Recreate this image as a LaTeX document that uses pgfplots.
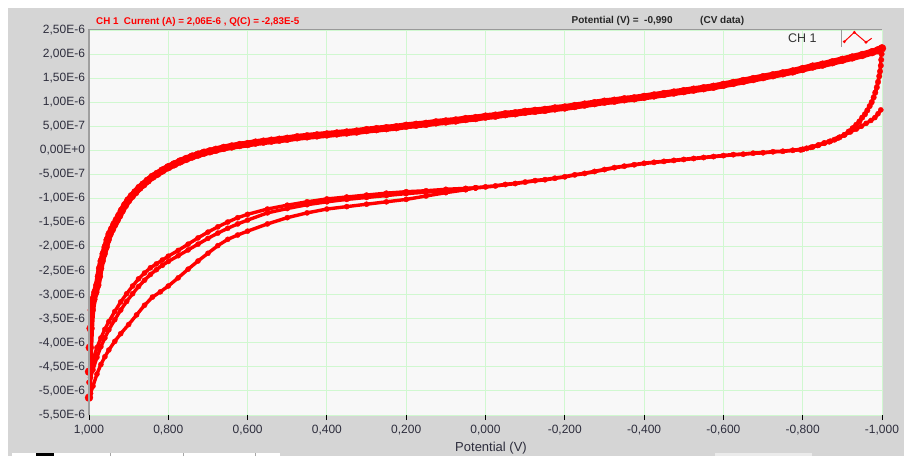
\documentclass[border=0pt]{standalone}
\usepackage{pgfplots}
\pgfplotsset{compat=1.18}
\usepackage{pgfplotstable}
\usepackage{fontspec}
\setmainfont{Liberation Sans}
\definecolor{outerbg}{RGB}{213,213,213}
\definecolor{plotbg}{RGB}{248,248,248}
\definecolor{gridgreen}{RGB}{208,248,208}
\definecolor{ticktext}{RGB}{45,45,60}
\definecolor{cvred}{RGB}{255,0,0}

% Upper (anodic) branch, potential in V, current in 1E-6 A
\pgfplotstableread{
V I
1.000 -5.14
1.000 -4.60
0.998 -4.10
0.996 -3.70
0.993 -3.32
0.989 -3.10
0.984 -2.95
0.979 -2.80
0.975 -2.62
0.972 -2.45
0.968 -2.30
0.963 -2.15
0.958 -2.01
0.953 -1.86
0.948 -1.74
0.942 -1.64
0.936 -1.54
0.930 -1.45
0.924 -1.36
0.917 -1.25
0.909 -1.14
0.901 -1.04
0.892 -0.95
0.883 -0.87
0.873 -0.78
0.863 -0.71
0.852 -0.63
0.840 -0.55
0.828 -0.49
0.815 -0.42
0.800 -0.35
0.785 -0.29
0.770 -0.23
0.755 -0.18
0.740 -0.13
0.725 -0.09
0.710 -0.05
0.695 -0.02
0.680 0.01
0.660 0.05
0.640 0.08
0.620 0.11
0.600 0.13
0.580 0.16
0.560 0.18
0.540 0.20
0.520 0.22
0.500 0.24
0.475 0.27
0.450 0.29
0.425 0.31
0.400 0.33
0.375 0.35
0.350 0.37
0.325 0.39
0.300 0.42
0.275 0.44
0.250 0.46
0.225 0.48
0.200 0.51
0.175 0.53
0.150 0.55
0.125 0.58
0.100 0.60
0.075 0.62
0.050 0.65
0.025 0.67
0.000 0.70
-0.025 0.72
-0.050 0.75
-0.075 0.77
-0.100 0.80
-0.125 0.82
-0.150 0.84
-0.175 0.87
-0.200 0.89
-0.225 0.92
-0.250 0.95
-0.275 0.98
-0.300 1.01
-0.325 1.03
-0.350 1.06
-0.375 1.08
-0.400 1.11
-0.425 1.14
-0.450 1.17
-0.475 1.20
-0.500 1.23
-0.525 1.26
-0.550 1.29
-0.575 1.32
-0.600 1.36
-0.625 1.40
-0.650 1.44
-0.675 1.48
-0.700 1.52
-0.725 1.56
-0.750 1.60
-0.775 1.64
-0.800 1.69
-0.825 1.74
-0.850 1.78
-0.875 1.83
-0.900 1.88
-0.925 1.93
-0.950 1.98
-0.975 2.04
-0.990 2.08
-1.000 2.12
}\upper

% Reversal at -1 V
\pgfplotstableread{
V I
-1.000 2.12
-0.999 2.00
-0.998 1.88
-0.997 1.76
-0.995 1.64
-0.993 1.54
-0.990 1.42
-0.987 1.31
-0.983 1.20
-0.979 1.10
-0.974 1.00
-0.969 0.92
-0.963 0.83
-0.957 0.75
-0.950 0.68
-0.943 0.60
-0.935 0.53
-0.926 0.46
-0.916 0.39
-0.905 0.32
-0.893 0.27
-0.880 0.22
-0.867 0.18
-0.854 0.15
-0.840 0.11
-0.825 0.07
-0.810 0.04
-0.795 0.01
}\reversal

% Start of the first scan
\pgfplotstableread{
V I
-0.997 0.84
-0.990 0.76
-0.982 0.68
-0.972 0.62
-0.960 0.56
-0.948 0.50
-0.935 0.44
-0.920 0.38
-0.905 0.32
-0.888 0.25
-0.870 0.19
-0.855 0.15
-0.838 0.10
-0.820 0.06
-0.800 0.02
}\start

% Common part of the lower (cathodic) branch
\pgfplotstableread{
V I
-0.800 0.02
-0.775 0.00
-0.750 -0.02
-0.725 -0.03
-0.700 -0.05
-0.675 -0.06
-0.650 -0.08
-0.625 -0.09
-0.600 -0.11
-0.575 -0.13
-0.550 -0.15
-0.525 -0.17
-0.500 -0.19
-0.475 -0.21
-0.450 -0.23
-0.425 -0.25
-0.400 -0.27
-0.375 -0.30
-0.350 -0.33
-0.325 -0.36
-0.300 -0.40
-0.275 -0.44
-0.250 -0.48
-0.225 -0.51
-0.200 -0.55
-0.175 -0.58
-0.150 -0.61
-0.125 -0.63
-0.100 -0.66
-0.075 -0.69
-0.050 -0.71
-0.025 -0.74
0.000 -0.76
0.025 -0.78
}\lowcommon

\pgfplotstableread{
V I
0.025 -0.78
0.050 -0.79
0.100 -0.81
0.150 -0.84
0.200 -0.86
0.250 -0.89
0.300 -0.93
0.350 -0.97
0.400 -1.01
0.450 -1.07
0.500 -1.14
0.550 -1.22
0.600 -1.33
0.625 -1.40
0.650 -1.49
0.675 -1.59
0.700 -1.70
0.725 -1.82
0.750 -1.95
0.775 -2.08
0.800 -2.20
0.815 -2.28
0.830 -2.36
0.845 -2.44
0.860 -2.55
0.875 -2.67
0.890 -2.82
0.905 -2.98
0.920 -3.15
0.935 -3.35
0.950 -3.56
0.960 -3.72
0.970 -3.90
0.980 -4.10
0.990 -4.36
0.996 -4.50
1.000 -4.58
}\lowa

\pgfplotstableread{
V I
0.025 -0.78
0.050 -0.80
0.100 -0.83
0.150 -0.87
0.200 -0.90
0.250 -0.94
0.300 -0.98
0.350 -1.02
0.400 -1.07
0.450 -1.13
0.500 -1.21
0.550 -1.30
0.600 -1.45
0.625 -1.53
0.650 -1.62
0.675 -1.72
0.700 -1.83
0.725 -1.95
0.750 -2.07
0.775 -2.19
0.800 -2.31
0.815 -2.39
0.830 -2.48
0.845 -2.58
0.860 -2.70
0.875 -2.83
0.890 -2.98
0.905 -3.14
0.920 -3.32
0.935 -3.52
0.950 -3.73
0.960 -3.90
0.970 -4.08
0.980 -4.30
0.990 -4.56
0.996 -4.72
1.000 -4.82
}\lowb

\pgfplotstableread{
V I
0.025 -0.78
0.050 -0.82
0.100 -0.88
0.150 -0.95
0.200 -1.02
0.250 -1.07
0.300 -1.12
0.350 -1.17
0.400 -1.22
0.450 -1.30
0.500 -1.40
0.550 -1.53
0.600 -1.68
0.625 -1.76
0.650 -1.85
0.675 -1.98
0.700 -2.14
0.725 -2.30
0.750 -2.47
0.775 -2.65
0.800 -2.82
0.820 -2.94
0.840 -3.05
0.860 -3.22
0.880 -3.42
0.900 -3.62
0.920 -3.81
0.935 -3.97
0.950 -4.15
0.960 -4.29
0.970 -4.45
0.980 -4.65
0.990 -4.90
0.996 -5.05
1.000 -5.14
}\lowc

\begin{document}
\begin{tikzpicture}
% window background
\fill[white] (0,0) rectangle (904pt,456pt);
\fill[outerbg] (8pt,0) rectangle (904pt,448pt);
% bottom widget fragments
\fill[white] (12pt,0) rectangle (280pt,3.3pt);
\draw[gray!70,line width=0.6pt] (110pt,0) -- (110pt,3.3pt) (183pt,0) -- (183pt,3.3pt) (255pt,0) -- (255pt,3.3pt);
\fill[black] (36pt,0) rectangle (54pt,3.3pt);
\fill[white!92!black] (715pt,0) rectangle (812pt,3pt);

\begin{axis}[
  at={(89pt,41pt)}, anchor=south west,
  scale only axis, width=793pt, height=385pt,
  xmin=-1, xmax=1, x dir=reverse,
  ymin=-5.5, ymax=2.5,
  axis background/.style={fill=plotbg},
  axis line style={draw=none},
  grid=major,
  major grid style={draw=gridgreen, line width=0.9pt},
  xtick={1,0.8,0.6,0.4,0.2,0,-0.2,-0.4,-0.6,-0.8,-1},
  xticklabels={{1,000},{0,800},{0,600},{0,400},{0,200},{0,000},{-0,200},{-0,400},{-0,600},{-0,800},{-1,000}},
  ytick={2.5,2,1.5,1,0.5,0,-0.5,-1,-1.5,-2,-2.5,-3,-3.5,-4,-4.5,-5,-5.5},
  yticklabels={{2,50E-6},{2,00E-6},{1,50E-6},{1,00E-6},{5,00E-7},{0,00E+0},{-5,00E-7},{-1,00E-6},{-1,50E-6},{-2,00E-6},{-2,50E-6},{-3,00E-6},{-3,50E-6},{-4,00E-6},{-4,50E-6},{-5,00E-6},{-5,50E-6}},
  xtick pos=left, ytick pos=left,
  tick align=outside,
  major tick length=5pt,
  xtick style={draw=black, line width=0.9pt},
  ytick style={draw=none},
  ticklabel style={font=\fontsize{12}{14}\selectfont, text=ticktext},
  yticklabel style={xshift=4.5pt},
  xticklabel style={yshift=-2pt},
  every axis plot/.append style={cvred, mark=*, mark options={solid, fill=cvred, draw=cvred, line width=0.3pt}},
]
\addplot[line width=3.4pt, mark size=2.6pt] table[x=V,y=I] {\start};
\addplot[line width=3.8pt, mark size=2.7pt] table[x=V,y=I] {\lowcommon};
\addplot[line width=3.4pt, mark size=2.6pt] table[x=V,y=I] {\lowc};
\addplot[line width=3.4pt, mark size=2.6pt] table[x=V,y=I] {\lowb};
\addplot[line width=3.4pt, mark size=2.6pt] table[x=V,y=I] {\lowa};
\addplot[line width=7pt, mark size=4pt] table[x=V,y=I] {\upper};
\addplot[line width=3.8pt, mark size=2.8pt] table[x=V,y=I] {\reversal};
\end{axis}

% plot frame (left and top borders)
\draw[gray!75, line width=2pt] (89pt,41pt) -- (89pt,426pt);
\draw[gray!80, line width=1pt] (88pt,426pt) -- (882pt,426pt);

% header texts
\node[anchor=west, inner sep=0pt, text=cvred, font=\fontsize{9.8}{11}\selectfont\bfseries] at (96pt,434.3pt) {CH 1\ \ Current (A) = 2,06E-6 , Q(C) = -2,83E-5};
\node[anchor=west, inner sep=0pt, font=\fontsize{10}{11}\selectfont\bfseries, text=black!85] at (571.5pt,435.3pt) {Potential (V) =\ \ -0,990};
\node[anchor=west, inner sep=0pt, font=\fontsize{10}{11}\selectfont\bfseries, text=black!85] at (700pt,435.3pt) {(CV data)};

% channel legend
\node[anchor=west, inner sep=0pt, font=\fontsize{12.5}{14}\selectfont, text=black!80] at (788pt,418.3pt) {CH 1};
\draw[gray!80, line width=0.8pt] (841.7pt,426pt) -- (841.7pt,409pt);
\draw[cvred, line width=1pt] (844.3pt,414.3pt) -- (854.3pt,423.7pt) -- (866pt,413.7pt) -- (871.7pt,417.7pt);
\fill[cvred] (844.3pt,414.3pt) circle (1.6pt) (854.3pt,423.7pt) circle (1.6pt) (866pt,413.7pt) circle (1.6pt);

% x axis label
\node[inner sep=0pt, font=\fontsize{13}{15}\selectfont, text=ticktext] at (491pt,8pt) {Potential (V)};
\end{tikzpicture}
\end{document}
